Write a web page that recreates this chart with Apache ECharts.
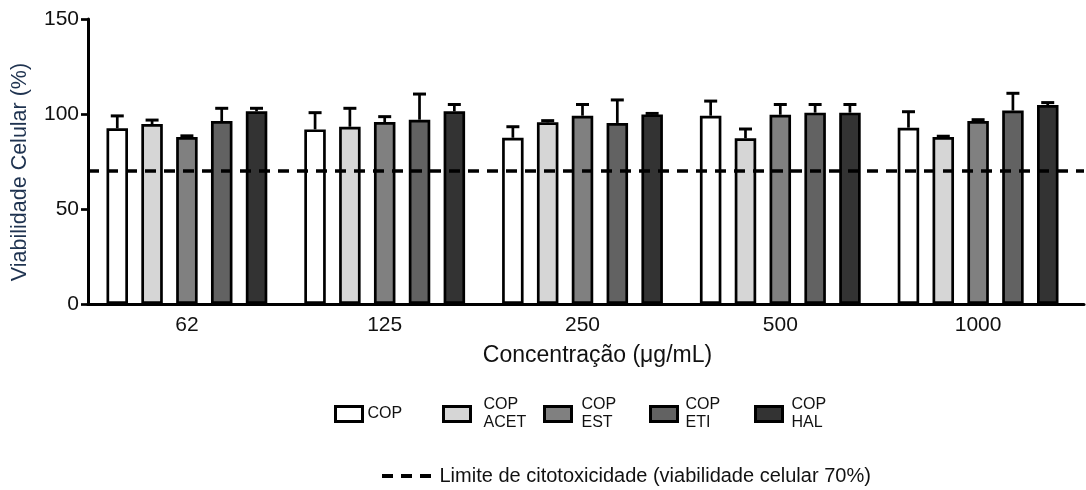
<!DOCTYPE html>
<html>
<head>
<meta charset="utf-8">
<script src="https://cdn.jsdelivr.net/npm/echarts@6/dist/echarts.min.js"></script>
<style>
html,body{margin:0;padding:0;background:#fff;}
#chart{width:1086px;height:490px;}
</style>
</head>
<body>
<div id="chart"></div>
<script>
// ---- data ----
const categories = ['62', '125', '250', '500', '1000'];
const seriesNames = ['COP', 'COP ACET', 'COP EST', 'COP ETI', 'COP HAL'];
const cop     = [92.5, 91.9, 87.5, 99.1, 92.8];
const copSd   = [6.5, 8.8, 5.8, 7.7, 8.4];
const copAcet = [94.7, 93.3, 95.6, 87.2, 87.9];
const copAcetSd = [2.1, 9.7, 0.9, 4.9, 0.4];
const copEst  = [87.9, 95.8, 99.1, 99.6, 96.3];
const copEstSd = [0.6, 2.8, 5.9, 5.4, 0.7];
const copEti  = [96.3, 97.0, 95.3, 100.7, 101.8];
const copEtiSd = [6.7, 13.5, 12.1, 4.3, 9.1];
const copHal  = [101.4, 101.4, 99.8, 100.7, 104.7];
const copHalSd = [1.6, 3.6, 0.5, 4.3, 1.3];
const yTicks = [0, 50, 100, 150];
const threshold = 70;
const thresholdName = 'Limite de citotoxicidade (viabilidade celular 70%)';

// ---- styling ----
const FONT = '"Liberation Sans", Arial, sans-serif';
const colors = ['#ffffff', '#d6d6d6', '#808080', '#626262', '#333333'];
const means = [cop, copAcet, copEst, copEti, copHal];
const sds = [copSd, copAcetSd, copEstSd, copEtiSd, copHalSd];
const BAR_STEP = 0.176; // fraction of band between adjacent bar centres

const series = [];
means.forEach((vals, k) => {
  series.push({
    type: 'bar',
    name: seriesNames[k],
    data: vals,
    barWidth: 21.5,
    barGap: '62%',
    itemStyle: { color: colors[k], borderColor: '#000', borderWidth: 2.7 },
    z: 2
  });
});
means.forEach((vals, k) => {
  series.push({
    type: 'custom',
    name: seriesNames[k] + ' sd',
    data: categories.map((c, i) => [i, vals[i], sds[k][i]]),
    z: 3,
    silent: true,
    renderItem: function (params, api) {
      const x = api.value(0), m = api.value(1), s = api.value(2);
      const base = api.coord([x, m]);
      const top = api.coord([x, m + s]);
      const band = api.size([1, 0])[0];
      const cx = base[0] + (k - 2) * band * BAR_STEP;
      return {
        type: 'group',
        children: [
          { type: 'line', shape: { x1: cx, y1: base[1], x2: cx, y2: top[1] }, style: { stroke: '#000', lineWidth: 2.7 } },
          { type: 'line', shape: { x1: cx - 6.5, y1: top[1], x2: cx + 6.5, y2: top[1] }, style: { stroke: '#000', lineWidth: 3 } }
        ]
      };
    }
  });
});
series.push({
  type: 'line',
  name: thresholdName,
  xAxisIndex: 1,
  yAxisIndex: 1,
  data: [[0, threshold], [1, threshold]],
  showSymbol: false,
  symbol: 'none',
  silent: true,
  z: 10,
  lineStyle: { color: '#000', width: 3.4, type: [11, 8] },
  itemStyle: { color: '#000' }
});

const legendBase = {
  orient: 'horizontal',
  icon: 'rect',
  padding: 0,
  itemWidth: 27,
  itemHeight: 15,
  selectedMode: false,
  itemStyle: { borderWidth: 3, borderColor: '#000' },
  textStyle: { fontFamily: FONT, fontSize: 16, color: '#111', lineHeight: 18 },
  formatter: n => n.replace(' ', '\n')
};
const legendPos = [[334, 405, 0], [442, 396, 8], [543, 396, 5], [649, 396, 3], [754, 396, 4]];
const legends = seriesNames.map((n, k) => Object.assign({}, legendBase, {
  data: [n],
  left: legendPos[k][0],
  top: legendPos[k][1],
  textStyle: Object.assign({}, legendBase.textStyle, { padding: [0, 0, 0, legendPos[k][2]] })
}));
legends.push({
  data: [thresholdName],
  left: 382,
  top: 466,
  padding: 0,
  selectedMode: false,
  icon: 'path://M0,0h11v4h-11z M19,0h11v4h-11z M38,0h11v4h-11z',
  itemWidth: 52,
  itemHeight: 4,
  itemStyle: { color: '#000', borderWidth: 0 },
  textStyle: { fontFamily: FONT, fontSize: 20, color: '#111', padding: [0, 0, 0, 2] }
});

const option = {
  animation: false,
  backgroundColor: '#fff',
  textStyle: { fontFamily: FONT },
  grid: [
    { left: 88, right: 9, top: 19, bottom: 186 },
    { left: 88, right: 2, top: 19, bottom: 186 }
  ],
  legend: legends,
  xAxis: [
    {
      type: 'category',
      gridIndex: 0,
      data: categories,
      name: 'Concentração (μg/mL)',
      nameLocation: 'middle',
      nameGap: 40,
      nameTextStyle: { fontFamily: FONT, fontSize: 23, color: '#111', padding: [0, 0, 0, 30] },
      axisLine: { lineStyle: { color: '#000', width: 3 } },
      axisTick: { alignWithLabel: true, length: 7, lineStyle: { color: '#000', width: 2.7 } },
      axisLabel: { fontFamily: FONT, fontSize: 21, color: '#111', margin: 11 },
      splitLine: { show: false }
    },
    {
      type: 'value',
      gridIndex: 1,
      min: 0,
      max: 1,
      position: 'bottom',
      axisLine: { show: true, onZero: false, lineStyle: { color: '#000', width: 3 } },
      axisTick: { show: false },
      axisLabel: { show: false },
      splitLine: { show: false }
    }
  ],
  yAxis: [
    {
      type: 'value',
      gridIndex: 0,
      min: yTicks[0],
      max: yTicks[yTicks.length - 1],
      interval: yTicks[1] - yTicks[0],
      name: 'Viabilidade Celular (%)',
      nameLocation: 'middle',
      nameGap: 57,
      nameTextStyle: { fontFamily: FONT, fontSize: 21.5, color: '#1f3350', padding: [0, 21, 0, 0] },
      axisLine: { show: true, lineStyle: { color: '#000', width: 3 } },
      axisTick: { show: true, length: 7, lineStyle: { color: '#000', width: 2.7 } },
      axisLabel: { fontFamily: FONT, fontSize: 21, color: '#111', margin: 9 },
      splitLine: { show: false }
    },
    {
      type: 'value',
      gridIndex: 1,
      min: yTicks[0],
      max: yTicks[yTicks.length - 1],
      show: false
    }
  ],
  series: series
};

const chart = echarts.init(document.getElementById('chart'), null, { renderer: 'canvas' });
chart.setOption(option);
</script>
</body>
</html>
